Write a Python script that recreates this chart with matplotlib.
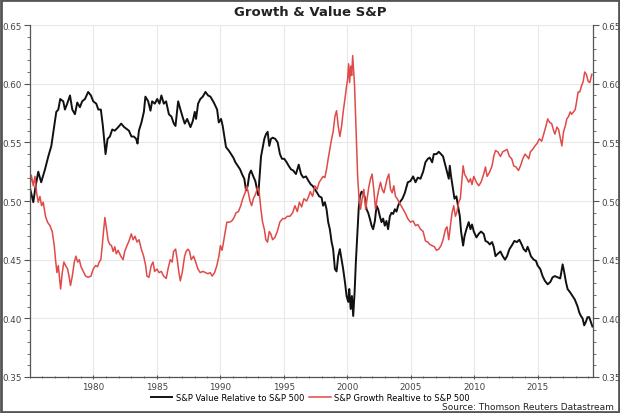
import matplotlib.pyplot as plt
from matplotlib.patches import Rectangle
from matplotlib.ticker import MultipleLocator

# S&P Value relative to S&P 500 (decimal years, ratio)
value_years = [1975.04, 1975.28, 1975.45, 1975.67, 1975.9, 1976.2, 1976.46, 1976.7, 1976.93, 1977.09,
               1977.25, 1977.4, 1977.64, 1977.77, 1977.95, 1978.17, 1978.35, 1978.56, 1978.74, 1978.95,
               1979.13, 1979.35, 1979.6, 1979.82, 1980.0, 1980.24, 1980.4, 1980.6, 1980.76, 1980.97,
               1981.13, 1981.31, 1981.5, 1981.7, 1981.97, 1982.2, 1982.44, 1982.81, 1983.01, 1983.2,
               1983.38, 1983.49, 1983.6, 1983.8, 1983.99, 1984.11, 1984.33, 1984.51, 1984.64, 1984.85,
               1985.04, 1985.22, 1985.37, 1985.56, 1985.74, 1985.96, 1986.16, 1986.35, 1986.48, 1986.69,
               1986.87, 1987.06, 1987.21, 1987.4, 1987.66, 1987.84, 1988.0, 1988.1, 1988.26, 1988.44,
               1988.63, 1988.84, 1989.05, 1989.23, 1989.5, 1989.76, 1989.89, 1990.07, 1990.2, 1990.33,
               1990.46, 1990.68, 1990.86, 1991.04, 1991.2, 1991.39, 1991.57, 1991.72, 1991.9, 1992.04,
               1992.17, 1992.3, 1992.43, 1992.61, 1992.77, 1992.9, 1993.0, 1993.22, 1993.48, 1993.61,
               1993.74, 1993.87, 1994.0, 1994.14, 1994.34, 1994.53, 1994.71, 1994.87, 1995.05, 1995.24,
               1995.4, 1995.58, 1995.76, 1995.97, 1996.19, 1996.37, 1996.55, 1996.76, 1996.97, 1997.15,
               1997.28, 1997.46, 1997.64, 1997.8, 1997.99, 1998.11, 1998.25, 1998.38, 1998.51, 1998.64,
               1998.78, 1998.9, 1999.04, 1999.17, 1999.3, 1999.43, 1999.57, 1999.69, 1999.83, 1999.96,
               2000.09, 2000.17, 2000.28, 2000.38, 2000.48, 2000.59, 2000.69, 2000.8, 2000.91, 2001.01,
               2001.14, 2001.27, 2001.4, 2001.53, 2001.66, 2001.79, 2001.93, 2002.05, 2002.19, 2002.32,
               2002.45, 2002.58, 2002.71, 2002.84, 2002.97, 2003.1, 2003.23, 2003.37, 2003.5, 2003.63,
               2003.76, 2003.89, 2004.02, 2004.15, 2004.36, 2004.55, 2004.78, 2004.99, 2005.2, 2005.39,
               2005.57, 2005.78, 2005.99, 2006.17, 2006.36, 2006.51, 2006.7, 2006.83, 2007.04, 2007.22,
               2007.4, 2007.56, 2007.75, 2007.87, 2008.01, 2008.09, 2008.19, 2008.35, 2008.46, 2008.61,
               2008.74, 2008.88, 2008.98, 2009.14, 2009.25, 2009.4, 2009.58, 2009.72, 2009.84, 2009.98,
               2010.19, 2010.37, 2010.55, 2010.76, 2010.9, 2011.08, 2011.24, 2011.42, 2011.55, 2011.69,
               2011.87, 2012.08, 2012.26, 2012.44, 2012.6, 2012.79, 2012.97, 2013.18, 2013.38, 2013.57,
               2013.75, 2013.91, 2014.09, 2014.22, 2014.36, 2014.48, 2014.7, 2014.88, 2015.01, 2015.22,
               2015.4, 2015.58, 2015.8, 2016.01, 2016.19, 2016.37, 2016.58, 2016.79, 2016.98, 2017.11,
               2017.24, 2017.37, 2017.58, 2017.76, 2017.94, 2018.16, 2018.29, 2018.42, 2018.55, 2018.68,
               2018.81, 2018.94, 2019.07, 2019.2, 2019.33]
value_ratio = [0.510, 0.499, 0.512, 0.525, 0.516, 0.527, 0.538, 0.547, 0.564, 0.576,
               0.578, 0.587, 0.585, 0.578, 0.583, 0.590, 0.578, 0.574, 0.584, 0.580,
               0.585, 0.587, 0.593, 0.590, 0.585, 0.583, 0.578, 0.578, 0.564, 0.540,
               0.553, 0.555, 0.561, 0.560, 0.563, 0.566, 0.563, 0.560, 0.555, 0.555,
               0.553, 0.549, 0.560, 0.567, 0.576, 0.589, 0.585, 0.577, 0.585, 0.583,
               0.587, 0.583, 0.590, 0.583, 0.585, 0.574, 0.572, 0.566, 0.564, 0.585,
               0.578, 0.571, 0.566, 0.570, 0.563, 0.568, 0.576, 0.570, 0.583, 0.587,
               0.589, 0.593, 0.590, 0.589, 0.584, 0.578, 0.567, 0.570, 0.564, 0.555,
               0.546, 0.543, 0.540, 0.537, 0.533, 0.530, 0.527, 0.523, 0.519, 0.509,
               0.513, 0.523, 0.526, 0.521, 0.517, 0.510, 0.505, 0.538, 0.553, 0.557,
               0.559, 0.547, 0.553, 0.554, 0.553, 0.550, 0.540, 0.536, 0.536, 0.533,
               0.530, 0.527, 0.526, 0.523, 0.531, 0.523, 0.520, 0.521, 0.517, 0.514,
               0.513, 0.510, 0.507, 0.504, 0.503, 0.496, 0.499, 0.493, 0.482, 0.476,
               0.465, 0.459, 0.442, 0.440, 0.453, 0.459, 0.450, 0.442, 0.431, 0.419,
               0.414, 0.425, 0.408, 0.419, 0.402, 0.422, 0.448, 0.470, 0.493, 0.504,
               0.508, 0.507, 0.503, 0.493, 0.490, 0.485, 0.479, 0.476, 0.483, 0.496,
               0.493, 0.487, 0.482, 0.485, 0.479, 0.483, 0.476, 0.487, 0.490, 0.489,
               0.493, 0.491, 0.496, 0.499, 0.502, 0.507, 0.516, 0.517, 0.521, 0.516,
               0.520, 0.519, 0.525, 0.533, 0.536, 0.537, 0.533, 0.540, 0.540, 0.542,
               0.540, 0.538, 0.530, 0.525, 0.519, 0.530, 0.521, 0.510, 0.502, 0.504,
               0.496, 0.487, 0.474, 0.462, 0.470, 0.476, 0.482, 0.476, 0.480, 0.474,
               0.469, 0.472, 0.474, 0.472, 0.466, 0.465, 0.463, 0.465, 0.461, 0.453,
               0.455, 0.457, 0.453, 0.450, 0.453, 0.459, 0.462, 0.466, 0.465, 0.467,
               0.463, 0.459, 0.457, 0.461, 0.457, 0.453, 0.450, 0.449, 0.445, 0.442,
               0.436, 0.432, 0.429, 0.431, 0.435, 0.436, 0.435, 0.434, 0.446, 0.439,
               0.431, 0.425, 0.422, 0.419, 0.416, 0.410, 0.405, 0.402, 0.400, 0.394,
               0.397, 0.401, 0.401, 0.397, 0.393]

# S&P Growth relative to S&P 500
growth_years = [1975.04, 1975.12, 1975.28, 1975.41, 1975.54, 1975.67, 1975.8, 1975.93, 1976.06, 1976.24,
                1976.4, 1976.59, 1976.77, 1976.93, 1977.03, 1977.14, 1977.25, 1977.33, 1977.43, 1977.56,
                1977.69, 1977.82, 1977.98, 1978.09, 1978.21, 1978.35, 1978.51, 1978.64, 1978.77, 1978.9,
                1979.04, 1979.22, 1979.4, 1979.6, 1979.82, 1980.0, 1980.18, 1980.34, 1980.47, 1980.6,
                1980.71, 1980.81, 1980.92, 1981.05, 1981.18, 1981.31, 1981.44, 1981.57, 1981.7, 1981.82,
                1981.96, 1982.17, 1982.35, 1982.48, 1982.66, 1982.82, 1983.0, 1983.14, 1983.29, 1983.45,
                1983.61, 1983.79, 1983.97, 1984.13, 1984.23, 1984.39, 1984.57, 1984.71, 1984.84, 1985.02,
                1985.18, 1985.36, 1985.55, 1985.75, 1985.89, 1986.07, 1986.22, 1986.33, 1986.49, 1986.62,
                1986.75, 1986.86, 1987.01, 1987.2, 1987.32, 1987.46, 1987.59, 1987.72, 1987.91, 1988.07,
                1988.25, 1988.43, 1988.64, 1988.85, 1989.03, 1989.21, 1989.37, 1989.56, 1989.74, 1989.9,
                1990.02, 1990.15, 1990.28, 1990.4, 1990.53, 1990.74, 1990.92, 1991.1, 1991.25, 1991.44,
                1991.62, 1991.78, 1991.96, 1992.09, 1992.22, 1992.35, 1992.48, 1992.62, 1992.8, 1992.95,
                1993.08, 1993.21, 1993.34, 1993.48, 1993.6, 1993.73, 1993.87, 1993.99, 1994.13, 1994.31,
                1994.5, 1994.7, 1994.92, 1995.1, 1995.29, 1995.5, 1995.71, 1995.89, 1996.08, 1996.24,
                1996.42, 1996.6, 1996.81, 1996.97, 1997.1, 1997.28, 1997.46, 1997.64, 1997.8, 1997.99,
                1998.11, 1998.25, 1998.38, 1998.51, 1998.64, 1998.78, 1998.9, 1999.04, 1999.17, 1999.3,
                1999.43, 1999.57, 1999.69, 1999.83, 1999.96, 2000.04, 2000.12, 2000.2, 2000.28, 2000.36,
                2000.44, 2000.52, 2000.59, 2000.67, 2000.75, 2000.83, 2000.93, 2001.06, 2001.19, 2001.32,
                2001.46, 2001.58, 2001.71, 2001.85, 2001.97, 2002.1, 2002.24, 2002.36, 2002.5, 2002.63,
                2002.76, 2002.9, 2003.03, 2003.15, 2003.29, 2003.42, 2003.55, 2003.68, 2003.81, 2003.94,
                2004.1, 2004.26, 2004.41, 2004.57, 2004.78, 2004.99, 2005.2, 2005.39, 2005.57, 2005.78,
                2005.99, 2006.17, 2006.36, 2006.51, 2006.7, 2006.88, 2007.04, 2007.22, 2007.4, 2007.56,
                2007.75, 2007.87, 2008.01, 2008.14, 2008.27, 2008.4, 2008.53, 2008.66, 2008.79, 2008.92,
                2009.05, 2009.14, 2009.25, 2009.4, 2009.58, 2009.72, 2009.84, 2009.98, 2010.19, 2010.37,
                2010.55, 2010.76, 2010.9, 2011.03, 2011.24, 2011.42, 2011.55, 2011.69, 2011.87, 2012.08,
                2012.26, 2012.44, 2012.6, 2012.79, 2012.97, 2013.13, 2013.31, 2013.5, 2013.66, 2013.84,
                2014.02, 2014.18, 2014.31, 2014.44, 2014.62, 2014.8, 2014.96, 2015.15, 2015.33, 2015.49,
                2015.67, 2015.8, 2015.96, 2016.12, 2016.27, 2016.37, 2016.53, 2016.66, 2016.79, 2016.92,
                2017.05, 2017.19, 2017.31, 2017.44, 2017.58, 2017.68, 2017.84, 2017.97, 2018.07, 2018.2,
                2018.33, 2018.46, 2018.6, 2018.72, 2018.85, 2018.99, 2019.12, 2019.28]
growth_ratio = [0.515, 0.522, 0.513, 0.521, 0.507, 0.499, 0.504, 0.496, 0.499, 0.487,
                0.482, 0.479, 0.474, 0.462, 0.450, 0.439, 0.445, 0.436, 0.425, 0.439,
                0.448, 0.445, 0.442, 0.436, 0.428, 0.436, 0.448, 0.453, 0.448, 0.450,
                0.444, 0.440, 0.436, 0.435, 0.436, 0.442, 0.445, 0.444, 0.448, 0.450,
                0.462, 0.474, 0.486, 0.476, 0.466, 0.463, 0.462, 0.457, 0.461, 0.455,
                0.458, 0.453, 0.450, 0.457, 0.462, 0.466, 0.472, 0.467, 0.470, 0.465,
                0.467, 0.459, 0.453, 0.445, 0.436, 0.435, 0.445, 0.448, 0.440, 0.442,
                0.439, 0.440, 0.436, 0.434, 0.442, 0.450, 0.448, 0.457, 0.459, 0.450,
                0.439, 0.432, 0.439, 0.453, 0.457, 0.459, 0.457, 0.450, 0.453, 0.448,
                0.442, 0.439, 0.440, 0.439, 0.438, 0.439, 0.436, 0.439, 0.445, 0.453,
                0.462, 0.458, 0.466, 0.474, 0.482, 0.482, 0.483, 0.486, 0.490, 0.491,
                0.496, 0.502, 0.507, 0.513, 0.507, 0.500, 0.496, 0.502, 0.506, 0.512,
                0.507, 0.493, 0.482, 0.476, 0.467, 0.465, 0.474, 0.472, 0.467, 0.469,
                0.474, 0.482, 0.485, 0.485, 0.487, 0.487, 0.490, 0.496, 0.491, 0.499,
                0.495, 0.502, 0.500, 0.504, 0.508, 0.504, 0.513, 0.510, 0.516, 0.519,
                0.521, 0.520, 0.527, 0.536, 0.544, 0.553, 0.559, 0.572, 0.577, 0.564,
                0.555, 0.564, 0.576, 0.587, 0.598, 0.604, 0.617, 0.601, 0.615, 0.607,
                0.624, 0.610, 0.598, 0.572, 0.544, 0.521, 0.504, 0.493, 0.502, 0.510,
                0.493, 0.502, 0.512, 0.519, 0.523, 0.510, 0.493, 0.502, 0.510, 0.516,
                0.510, 0.507, 0.513, 0.519, 0.523, 0.510, 0.507, 0.513, 0.504, 0.502,
                0.499, 0.496, 0.493, 0.490, 0.485, 0.482, 0.483, 0.479, 0.480, 0.476,
                0.474, 0.466, 0.465, 0.463, 0.462, 0.461, 0.458, 0.459, 0.462, 0.467,
                0.476, 0.478, 0.467, 0.479, 0.490, 0.496, 0.487, 0.491, 0.499, 0.502,
                0.519, 0.530, 0.523, 0.520, 0.516, 0.519, 0.514, 0.521, 0.516, 0.513,
                0.516, 0.523, 0.529, 0.521, 0.525, 0.530, 0.538, 0.543, 0.542, 0.538,
                0.542, 0.543, 0.544, 0.538, 0.536, 0.530, 0.529, 0.526, 0.530, 0.536,
                0.540, 0.538, 0.536, 0.542, 0.544, 0.547, 0.549, 0.553, 0.551, 0.557,
                0.564, 0.570, 0.567, 0.566, 0.560, 0.557, 0.563, 0.561, 0.554, 0.547,
                0.559, 0.564, 0.570, 0.572, 0.576, 0.574, 0.576, 0.578, 0.584, 0.593,
                0.593, 0.598, 0.602, 0.610, 0.608, 0.602, 0.601, 0.608]

x_ticks = [1980, 1985, 1990, 1995, 2000, 2005, 2010, 2015]
y_ticks = [0.35, 0.40, 0.45, 0.50, 0.55, 0.60, 0.65]

fig = plt.figure(figsize=(6.2, 4.14), dpi=100)
ax = fig.add_axes([0.048, 0.087, 0.908, 0.85])

ax.plot(value_years, value_ratio, color="#111111", lw=1.4, label="S&P Value Relative to S&P 500")
ax.plot(growth_years, growth_ratio, color="#e04a48", lw=1.1, label="S&P Growth Realtive to S&P 500")

ax.set_xlim(1975.0, 2019.35)
ax.set_ylim(0.35, 0.65)
ax.set_xticks(x_ticks)
ax.set_xticklabels([str(y) for y in x_ticks])
ax.set_yticks(y_ticks)
ax.set_yticklabels(["%.2f" % v for v in y_ticks])
ax.xaxis.set_minor_locator(MultipleLocator(1))
ax.yaxis.set_minor_locator(MultipleLocator(0.01))
ax.grid(True, which="major", color="#e8e8e8", lw=0.8)
ax.set_axisbelow(True)

ax.tick_params(axis="both", which="both", labelsize=6.3, colors="#555555", labelcolor="#444444")
ax.tick_params(axis="y", which="major", length=4, direction="out", right=True, labelright=True, pad=2)
ax.tick_params(axis="y", which="minor", length=2, direction="out", right=True)
ax.tick_params(axis="x", which="major", length=3, direction="inout", pad=2)
ax.tick_params(axis="x", which="minor", length=2, direction="inout")

ax.spines["top"].set_visible(False)
for s in ["left", "right", "bottom"]:
    ax.spines[s].set_color("#555555")
    ax.spines[s].set_linewidth(0.9)

fig.suptitle("Growth & Value S&P", x=0.5, y=0.985, fontsize=9.5, fontweight="bold", color="#222222")

fig.legend(loc="center", bbox_to_anchor=(0.5, 0.038), ncol=2, frameon=False, fontsize=6,
           handlelength=2.6, columnspacing=0.6, handletextpad=0.4, borderpad=0.1)
fig.text(0.99, 0.016, "Source: Thomson Reuters Datastream", ha="right", va="center",
         fontsize=6.5, color="#222222")

# outer frame around the picture
fig.patches.append(Rectangle((0.002, 0.002), 0.996, 0.996, transform=fig.transFigure,
                             fill=False, edgecolor="#555555", lw=2))

fig.savefig("out.png", dpi=100)
